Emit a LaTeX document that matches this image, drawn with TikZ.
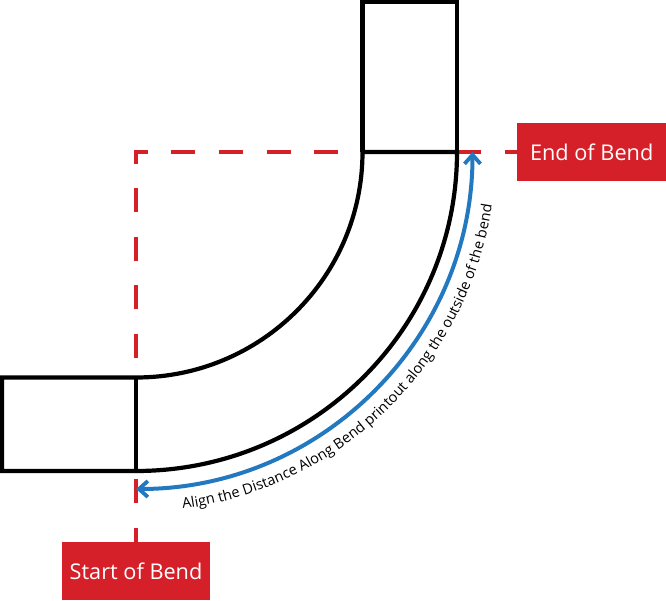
\documentclass[tikz,border=0pt]{standalone}
\usepackage{fontspec}
\setmainfont{Open Sans}
\usetikzlibrary{decorations.text,arrows.meta}
\definecolor{bendred}{HTML}{D52029}
\definecolor{bendblue}{HTML}{2379C0}
\tikzset{
  pipe/.style={draw=black,line width=4.2pt,line join=miter},
  hguide/.style={draw=bendred,line width=3.6pt,dash pattern=on 24pt off 23.6pt,dash phase=10.5pt},
  vguide/.style={draw=bendred,line width=3.6pt,dash pattern=on 24pt off 24.5pt,dash phase=10.5pt},
  tag/.style={fill=bendred,text=white,minimum height=58pt,inner sep=0pt,font=\fontsize{21.7}{24}\selectfont},
  align arrow/.style={draw=bendblue,line width=4pt,{Straight Barb[length=9pt,width=16pt,line width=3.8pt]}-{Straight Barb[length=9pt,width=16pt,line width=3.8pt]}},
}
\begin{document}
\begin{tikzpicture}[x=1pt,y=1pt]
\useasboundingbox (0,0) rectangle (666,600);
\coordinate (c) at (136,448);
\coordinate (ch) at (134.2,448);
\coordinate (cv) at (136,449.8);
\coordinate (innerS) at (136,222.5);
\coordinate (outerS) at (136,129);
\coordinate (innerE) at (362.5,448);
\coordinate (outerE) at (457,448);
\coordinate (arrS) at (136,111);
\coordinate (arrE) at (472.5,448);
% red guides
\node[tag,minimum width=148pt,anchor=north] (start) at (136,58) {Start of Bend};
\node[tag,minimum width=149pt,anchor=west] (end) at (517,448) {End of Bend};
\draw[hguide] (ch) -- (end.west);
\draw[vguide] (cv) -- (start.north);
% pipe
\draw[pipe] (innerE) arc[start angle=0,end angle=-90,x radius=226.5,y radius=225.5] -- (2,222.5) -- (2,129) -- (outerS) arc[start angle=-90,end angle=0,x radius=321,y radius=319] -- cycle;
\draw[pipe] (innerS) -- (outerS);
\draw[pipe] (innerE) -- (362.5,598) -- (457,598) -- (outerE);
% arrow
\draw[align arrow] (arrS) arc[start angle=-90,end angle=0,x radius=336.5,y radius=337];
% label
\path[postaction={decorate,decoration={text along path,text align={align=center},
  text={|\fontsize{14.5}{16}\selectfont|Align the Distance Along Bend printout along the outside of the bend}}}]
  (c) ++(-82.2:360) arc[start angle=-82.2,end angle=-8.9,radius=360];
\end{tikzpicture}
\end{document}
